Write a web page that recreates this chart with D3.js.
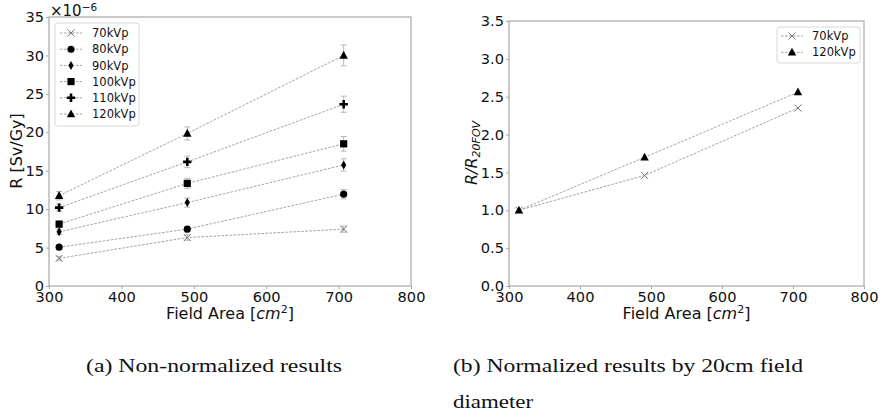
<!DOCTYPE html>
<html>
<head>
<meta charset="utf-8">
<script src="https://cdn.jsdelivr.net/npm/d3@7"></script>
<style>
  html, body { margin: 0; padding: 0; background: #fff; }
  svg { display: block; }
  text { fill: #111; }
</style>
</head>
<body>
<svg id="chart" width="882" height="419"></svg>
<script>
// ---------------- DATA ----------------
const fieldArea = [314, 491, 707];
const seriesNames = ["70kVp", "80kVp", "90kVp", "100kVp", "110kVp", "120kVp"];
const markerTypes = ["x", "circle", "thindiamond", "square", "plus", "triangle"];
const r70  = [3.6, 6.3, 7.4];
const r80  = [5.05, 7.4, 11.95];
const r90  = [7.05, 10.85, 15.75];
const r100 = [8.05, 13.35, 18.5];
const r110 = [10.2, 16.15, 23.65];
const r120 = [11.75, 19.85, 30.0];
const e70  = [0.25, 0.35, 0.4];
const e80  = [0.25, 0.35, 0.6];
const e90  = [0.35, 0.6, 0.8];
const e100 = [0.4, 0.65, 0.95];
const e110 = [0.45, 0.75, 1.05];
const e120 = [0.55, 0.85, 1.35];
const norm70  = [1.0, 1.46, 2.35];
const norm120 = [1.0, 1.70, 2.56];
const normNames = ["70kVp", "120kVp"];
const normMarkers = ["x", "triangle"];
const xTicks = [300, 400, 500, 600, 700, 800];
const yTicksLeft = [0, 5, 10, 15, 20, 25, 30, 35];
const yTicksRight = [0, 0.5, 1.0, 1.5, 2.0, 2.5, 3.0, 3.5];
const captionA = "(a) Non-normalized results";
const captionB1 = "(b) Normalized results by 20cm field";
const captionB2 = "diameter";

const leftValues = [r70, r80, r90, r100, r110, r120];
const leftErrors = [e70, e80, e90, e100, e110, e120];
const rightValues = [norm70, norm120];

// ---------------- HELPERS ----------------
const svg = d3.select("#chart");
const SANS = "DejaVu Sans, sans-serif";
const SPINE = "#a8a8a8";
const LINE = "#9a9a9a";

function markerPath(type) {
  switch (type) {
    case "x": return "M-3.5,-3.5L3.5,3.5M-3.5,3.5L3.5,-3.5";
    case "circle": return d3.symbol(d3.symbolCircle, 40)();
    case "thindiamond": return "M0,-4.5L2.6,0L0,4.5L-2.6,0Z";
    case "square": return "M-3.6,-3.6H3.6V3.6H-3.6Z";
    case "plus": return "M-1.3,-4.2H1.3V-1.3H4.2V1.3H1.3V4.2H-1.3V1.3H-4.2V-1.3H-1.3Z";
    case "triangle": return "M0,-4.6L4.2,3.2L-4.2,3.2Z";
  }
}
function drawMarker(g, type, x, y) {
  const p = g.append("path").attr("d", markerPath(type))
    .attr("transform", `translate(${x},${y})`);
  if (type === "x") p.attr("fill", "none").attr("stroke", "#777").attr("stroke-width", 1);
  else p.attr("fill", "#000");
}

function drawFrame(g, x, y, yTicks, yFmt) {
  const [x0, x1] = x.range(); const [y0, y1] = y.range();
  const xa = g.append("g").attr("transform", `translate(0,${y0})`)
    .call(d3.axisBottom(x).tickValues(xTicks).tickSize(3).tickPadding(3).tickFormat(d3.format("d")));
  const ya = g.append("g").attr("transform", `translate(${x0},0)`)
    .call(d3.axisLeft(y).tickValues(yTicks).tickSize(3).tickPadding(2).tickFormat(yFmt));
  [xa, ya].forEach(a => {
    a.select(".domain").remove();
    a.selectAll(".tick line").attr("stroke", SPINE);
    a.selectAll(".tick text").style("font-size", "14.6px").style("fill", "#111")
      .style("font-family", SANS);
  });
  g.append("rect").attr("x", x0).attr("y", y1).attr("width", x1 - x0).attr("height", y0 - y1)
    .attr("fill", "none").attr("stroke", SPINE).attr("stroke-width", 1.2);
}

// ---------------- LEFT PANEL ----------------
const xL = d3.scaleLinear().domain([300, 800]).range([49, 411]);
const yL = d3.scaleLinear().domain([0, 35]).range([286, 17]);
const gL = svg.append("g");
drawFrame(gL, xL, yL, yTicksLeft, d3.format("d"));

const line = (x, y) => d3.line().x((d, i) => x(fieldArea[i])).y(d => y(d));

leftValues.forEach((vals) => {
  gL.append("path").attr("d", line(xL, yL)(vals)).attr("fill", "none")
    .attr("stroke", LINE).attr("stroke-width", 0.9).attr("stroke-dasharray", "2.6,1.4");
});
leftValues.forEach((vals, s) => {
  vals.forEach((v, i) => {
    const cx = xL(fieldArea[i]);
    const e = leftErrors[s][i];
    const eg = gL.append("g").attr("stroke", "#b8b8b8").attr("stroke-width", 1);
    eg.append("line").attr("x1", cx).attr("x2", cx).attr("y1", yL(v - e)).attr("y2", yL(v + e));
    eg.append("line").attr("x1", cx - 3).attr("x2", cx + 3).attr("y1", yL(v - e)).attr("y2", yL(v - e));
    eg.append("line").attr("x1", cx - 3).attr("x2", cx + 3).attr("y1", yL(v + e)).attr("y2", yL(v + e));
  });
});
leftValues.forEach((vals, s) => {
  vals.forEach((v, i) => drawMarker(gL, markerTypes[s], xL(fieldArea[i]), yL(v)));
});

// exponent label
const expT = gL.append("text").attr("x", 50).attr("y", 16)
  .style("font-size", "15px").style("font-family", SANS);
expT.append("tspan").text("×10");
expT.append("tspan").attr("dy", -5.5).style("font-size", "10.5px").text("−6");

// y label
gL.append("text").attr("transform", "translate(22,151) rotate(-90)")
  .attr("text-anchor", "middle").style("font-size", "16px").style("font-family", SANS).text("R [Sv/Gy]");
// x label
function xLabel(g, cx) {
  const t = g.append("text").attr("x", cx).attr("y", 319).attr("text-anchor", "middle")
    .style("font-size", "16px").style("font-family", SANS);
  t.append("tspan").text("Field Area [");
  t.append("tspan").style("font-style", "italic").text("cm");
  t.append("tspan").attr("dy", -6).style("font-size", "11px").text("2");
  t.append("tspan").attr("dy", 6).text("]");
}
xLabel(gL, (xL.range()[0] + xL.range()[1]) / 2);

// legend
function legend(g, x, y, w, h, names, markers, y0, step, lx0, lx1, tx) {
  g.append("rect").attr("x", x).attr("y", y).attr("width", w).attr("height", h).attr("rx", 3)
    .attr("fill", "#fff").attr("fill-opacity", 0.85).attr("stroke", "#d8d8d8").attr("stroke-width", 1);
  names.forEach((n, i) => {
    const yy = y0 + i * step;
    g.append("line").attr("x1", lx0).attr("x2", lx1).attr("y1", yy).attr("y2", yy)
      .attr("stroke", LINE).attr("stroke-width", 0.9).attr("stroke-dasharray", "2.6,1.4");
    drawMarker(g, markers[i], (lx0 + lx1) / 2, yy);
    g.append("text").attr("x", tx).attr("y", yy).attr("dy", "0.36em")
      .style("font-size", "11.5px").style("font-family", SANS).text(n);
  });
}
legend(gL, 55, 23, 84, 103, seriesNames, markerTypes, 33, 16.2, 60, 82, 92);

// ---------------- RIGHT PANEL ----------------
const xR = d3.scaleLinear().domain([300, 800]).range([509, 864]);
const yR = d3.scaleLinear().domain([0, 3.5]).range([286, 21]);
const gR = svg.append("g");
drawFrame(gR, xR, yR, yTicksRight, d3.format(".1f"));

rightValues.forEach(vals => {
  gR.append("path").attr("d", line(xR, yR)(vals)).attr("fill", "none")
    .attr("stroke", LINE).attr("stroke-width", 0.9).attr("stroke-dasharray", "2.6,1.4");
});
rightValues.forEach((vals, s) => {
  vals.forEach((v, i) => drawMarker(gR, normMarkers[s], xR(fieldArea[i]), yR(v)));
});

const yLabR = gR.append("text").attr("transform", "translate(477,153) rotate(-90)")
  .attr("text-anchor", "middle").style("font-size", "16px").style("font-family", SANS);
yLabR.append("tspan").style("font-style", "italic").text("R/R");
yLabR.append("tspan").style("font-style", "italic").style("font-size", "11px").attr("dy", 3).text("20FOV");
xLabel(gR, (xR.range()[0] + xR.range()[1]) / 2);

legend(gR, 777, 27, 83, 36, normNames, normMarkers, 36, 16.3, 781, 803, 812);

// ---------------- CAPTIONS ----------------
function caption(x, y, txt, len) {
  svg.append("text").attr("x", x).attr("y", y)
    .style("font-size", "18px").style("font-family", "Liberation Serif, serif")
    .attr("textLength", len).attr("lengthAdjust", "spacingAndGlyphs").text(txt);
}
caption(86, 372, captionA, 256);
caption(453, 372, captionB1, 350);
caption(453, 408, captionB2, 80);
</script>
</body>
</html>
